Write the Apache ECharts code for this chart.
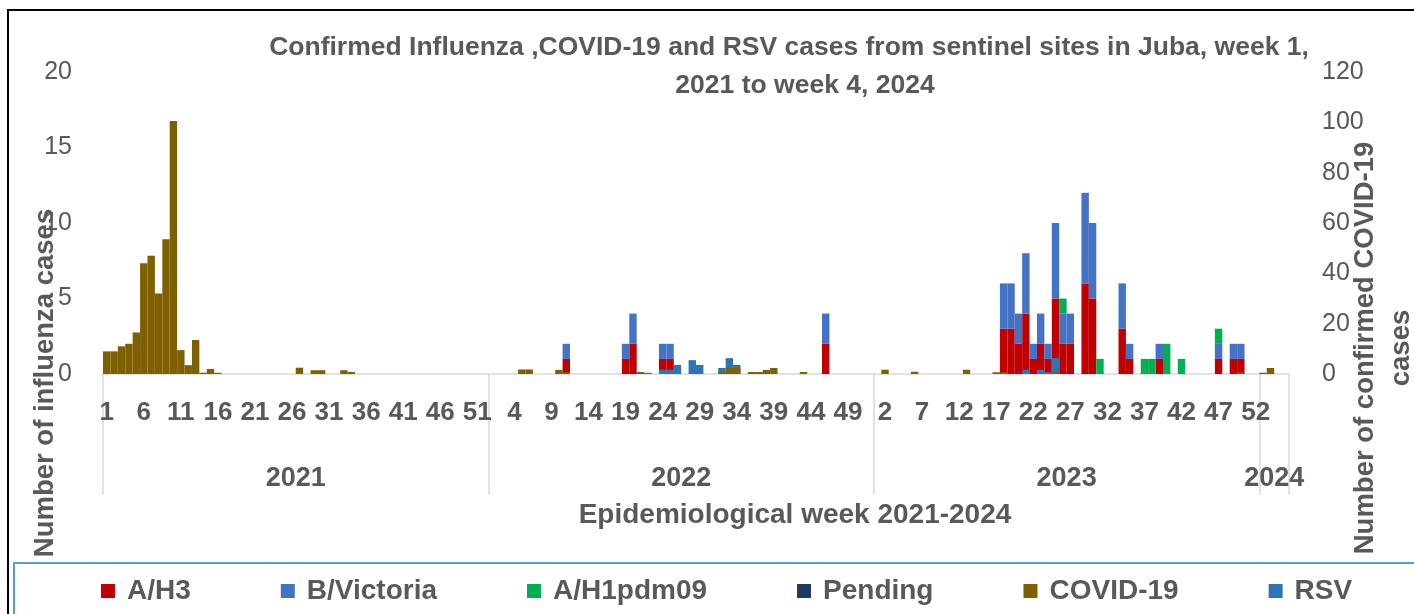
<!DOCTYPE html>
<html>
<head>
<meta charset="utf-8">
<title>Influenza, COVID-19 and RSV, Juba</title>
<script src="https://cdn.jsdelivr.net/npm/echarts/dist/echarts.min.js"></script>
<style>
  html, body { margin: 0; padding: 0; background: #fff; }
  #main { width: 1414px; height: 614px; }
</style>
</head>
<body>
<div id="main"></div>
<script>
const years = ['2021', '2022', '2023', '2024'];
const weeksInYear = [52, 52, 52, 4];

// [year, week, cases] - only weeks with cases
const aH3 = [
  [2022, 11, 1], [2022, 19, 1], [2022, 20, 2], [2022, 24, 1], [2022, 25, 1], [2022, 46, 2],
  [2023, 18, 3], [2023, 19, 3], [2023, 20, 2], [2023, 21, 4], [2023, 22, 1], [2023, 23, 2],
  [2023, 24, 1], [2023, 25, 5], [2023, 26, 2], [2023, 27, 2], [2023, 29, 6], [2023, 30, 5],
  [2023, 34, 3], [2023, 35, 1], [2023, 39, 1], [2023, 47, 1], [2023, 49, 1], [2023, 50, 1]
];
const bVictoria = [
  [2022, 11, 1], [2022, 19, 1], [2022, 20, 2], [2022, 24, 1], [2022, 25, 1], [2022, 46, 2],
  [2023, 18, 3], [2023, 19, 3], [2023, 20, 2], [2023, 21, 4], [2023, 22, 1], [2023, 23, 2],
  [2023, 24, 1], [2023, 25, 5], [2023, 26, 2], [2023, 27, 2], [2023, 29, 6], [2023, 30, 5],
  [2023, 34, 3], [2023, 35, 1], [2023, 39, 1], [2023, 47, 1], [2023, 49, 1], [2023, 50, 1]
];
const aH1pdm09 = [
  [2023, 26, 1], [2023, 31, 1], [2023, 37, 1], [2023, 38, 1], [2023, 40, 2], [2023, 42, 1], [2023, 47, 1]
];
const pending = [];
const covid19 = [
  [2021, 1, 9], [2021, 2, 9], [2021, 3, 11], [2021, 4, 12], [2021, 5, 16.5], [2021, 6, 44],
  [2021, 7, 47], [2021, 8, 32], [2021, 9, 53.5], [2021, 10, 100.5], [2021, 11, 9.5], [2021, 12, 3.5],
  [2021, 13, 13.5], [2021, 14, 0.5], [2021, 15, 2], [2021, 16, 0.5], [2021, 27, 2.5], [2021, 29, 1.5],
  [2021, 30, 1.5], [2021, 33, 1.5], [2021, 34, 0.8],
  [2022, 5, 1.8], [2022, 6, 1.8], [2022, 10, 1.6], [2022, 11, 0.7], [2022, 21, 0.8], [2022, 32, 0.7],
  [2022, 33, 2.4], [2022, 34, 2.4], [2022, 36, 0.8], [2022, 37, 0.8], [2022, 38, 1.6], [2022, 39, 2.4],
  [2022, 43, 0.8],
  [2023, 2, 1.7], [2023, 6, 0.9], [2023, 13, 1.7], [2023, 17, 0.7], [2023, 18, 0.7], [2023, 25, 0.7],
  [2023, 50, 0.7],
  [2024, 1, 0.5], [2024, 2, 2.4]
];
const rsv = [
  [2022, 22, 0.5], [2022, 24, 1.7], [2022, 25, 1.7], [2022, 26, 3.6], [2022, 28, 5.5], [2022, 29, 3.6],
  [2022, 32, 2.4], [2022, 33, 6.3], [2022, 34, 3.6],
  [2023, 21, 1.7], [2023, 23, 1.7], [2023, 24, 0.7], [2023, 25, 6.3]
];

const leftTicks = { min: 0, max: 20, step: 5 };
const rightTicks = { min: 0, max: 120, step: 20 };

// build the category axis
const weekLabels = [];
const yearLabels = [];
const yearStart = {};
years.forEach(function (y, i) {
  yearStart[y] = weekLabels.length;
  for (let w = 1; w <= weeksInYear[i]; w++) {
    weekLabels.push(String(w));
    yearLabels.push(y);
  }
});
const nCat = weekLabels.length;

function toSeries(list) {
  const arr = new Array(nCat).fill(0);
  list.forEach(function (d) {
    arr[yearStart[String(d[0])] + d[1] - 1] = d[2];
  });
  return arr;
}

// where the year boxes start, and where each year label sits
const yearBounds = years.map(function (y) { return yearStart[y]; });
const yearMid = {};
years.forEach(function (y, i) {
  yearMid[yearStart[y] + Math.floor(weeksInYear[i] / 2) - 1] = y;
});

const FONT = "'Liberation Sans', Arial, sans-serif";
const GREY = '#595959';

const chart = echarts.init(document.getElementById('main'), null, { renderer: 'canvas' });

function bar(name, data, color, yIdx, stack) {
  const s = {
    name: name,
    type: 'bar',
    data: data,
    yAxisIndex: yIdx,
    barGap: '-100%',
    barCategoryGap: '0%',
    itemStyle: { color: color },
    emphasis: { disabled: true }
  };
  if (stack) s.stack = stack;
  return s;
}

const option = {
  animation: false,
  textStyle: { fontFamily: FONT },
  grid: { left: 103, right: 125, top: 72, bottom: 240, outerBoundsMode: 'none' },
  legend: {
    data: ['A/H3', 'B/Victoria', 'A/H1pdm09', 'Pending', 'COVID-19', 'RSV'],
    left: 101,
    top: 577,
    padding: 0,
    icon: 'rect',
    itemWidth: 14,
    itemHeight: 14,
    itemGap: 90,
    textStyle: { fontSize: 28, fontWeight: 'bold', color: GREY, fontFamily: FONT, padding: [0, 0, 0, 7] }
  },
  xAxis: [{
    type: 'category',
    data: weekLabels,
    axisLine: { lineStyle: { color: '#D9D9D9', width: 1.5 } },
    axisTick: { show: false },
    axisLabel: { interval: 4, margin: 26, fontSize: 26, fontWeight: 'bold', color: GREY, fontFamily: FONT }
  }, {
    type: 'category',
    data: yearLabels,
    position: 'bottom',
    axisLine: { show: false },
    axisTick: {
      show: true,
      length: 121,
      interval: function (i) { return yearBounds.indexOf(i) >= 0; },
      lineStyle: { color: '#D9D9D9', width: 1.5 }
    },
    axisLabel: {
      interval: function (i) { return yearMid[i] !== undefined; },
      margin: 91,
      formatter: function (v) { return '{y|' + v + '}'; },
      rich: { y: { fontSize: 27, fontWeight: 'bold', color: GREY, fontFamily: FONT, padding: [0, 0, 0, 7.4] } }
    }
  }],
  yAxis: [{
    type: 'value',
    min: leftTicks.min,
    max: leftTicks.max,
    interval: leftTicks.step,
    axisLine: { show: false },
    axisTick: { show: false },
    splitLine: { show: false },
    axisLabel: { margin: 31, fontSize: 25, color: GREY, fontFamily: FONT }
  }, {
    type: 'value',
    position: 'right',
    min: rightTicks.min,
    max: rightTicks.max,
    interval: rightTicks.step,
    axisLine: { show: false },
    axisTick: { show: false },
    splitLine: { show: false },
    axisLabel: { margin: 33, fontSize: 25, color: GREY, fontFamily: FONT }
  }],
  series: [
    bar('A/H3', toSeries(aH3), '#C00000', 0, 'flu'),
    bar('B/Victoria', toSeries(bVictoria), '#4472C4', 0, 'flu'),
    bar('A/H1pdm09', toSeries(aH1pdm09), '#00B050', 0, 'flu'),
    bar('Pending', toSeries(pending), '#203864', 0, 'flu'),
    bar('RSV', toSeries(rsv), '#2E75B6', 1),
    bar('COVID-19', toSeries(covid19), '#7F6000', 1)
  ],
  graphic: [
    { type: 'rect', shape: { x: 8, y: 10, width: 1440, height: 640 }, style: { fill: 'none', stroke: '#000', lineWidth: 2 }, silent: true },
    { type: 'rect', shape: { x: 14, y: 563, width: 1440, height: 100 }, style: { fill: 'none', stroke: '#5B9BD5', lineWidth: 2 }, silent: true },
    { type: 'text', x: 789, y: 48, style: { text: 'Confirmed Influenza ,COVID-19 and RSV cases from sentinel sites in Juba, week 1,', fill: GREY, font: 'bold 26.5px ' + FONT, textAlign: 'center', textVerticalAlign: 'middle' } },
    { type: 'text', x: 805, y: 86, style: { text: '2021 to week 4, 2024', fill: GREY, font: 'bold 26.5px ' + FONT, textAlign: 'center', textVerticalAlign: 'middle' } },
    { type: 'text', x: 795, y: 515, style: { text: 'Epidemiological week 2021-2024', fill: GREY, font: 'bold 28px ' + FONT, textAlign: 'center', textVerticalAlign: 'middle' } },
    { type: 'text', x: 45, y: 383, rotation: Math.PI / 2, style: { text: 'Number of influenza cases', fill: GREY, font: 'bold 27.5px ' + FONT, textAlign: 'center', textVerticalAlign: 'middle' } },
    { type: 'text', x: 1383, y: 348, rotation: Math.PI / 2, style: { text: 'Number of confirmed COVID-19\ncases', fill: GREY, font: 'bold 27.5px ' + FONT, lineHeight: 36, textAlign: 'center', textVerticalAlign: 'middle' } }
  ]
};

chart.setOption(option);
</script>
</body>
</html>
